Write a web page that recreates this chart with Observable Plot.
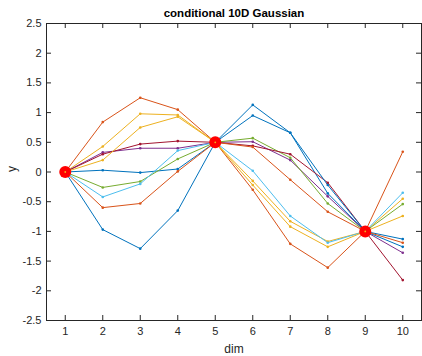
<!DOCTYPE html>
<html>
<head>
<meta charset="utf-8">
<script src="https://cdn.jsdelivr.net/npm/d3@7"></script>
<script src="https://cdn.jsdelivr.net/npm/@observablehq/plot@0.6"></script>
<style>
  html, body { margin: 0; padding: 0; background: #fff; }
  svg { display: block; }
</style>
</head>
<body>
<div id="chart"></div>
<script>
const dims = [1, 2, 3, 4, 5, 6, 7, 8, 9, 10];
const xTicks = [1, 2, 3, 4, 5, 6, 7, 8, 9, 10];
const yTicks = [-2.5, -2, -1.5, -1, -0.5, 0, 0.5, 1, 1.5, 2, 2.5];
const seriesColors = ["#0072BD", "#D95319", "#EDB120", "#7E2F8E", "#77AC30", "#4DBEEE", "#A2142F", "#0072BD", "#D95319", "#EDB120"];
const s1 = [0, 0.03, -0.01, 0.05, 0.5, 0.95, 0.66, -0.36, -1, -1.13];
const s2 = [0, 0.84, 1.25, 1.05, 0.5, -0.30, -1.21, -1.61, -1, 0.34];
const s3 = [0, 0.43, 0.98, 0.96, 0.5, -0.15, -0.83, -1.17, -1, -0.45];
const s4 = [0, 0.33, 0.40, 0.40, 0.5, 0.51, 0.20, -0.41, -1, -1.36];
const s5 = [0, -0.26, -0.16, 0.22, 0.5, 0.57, 0.24, -0.53, -1, -0.54];
const s6 = [0, -0.42, -0.20, 0.36, 0.5, 0.02, -0.74, -1.19, -1, -0.35];
const s7 = [0, 0.30, 0.47, 0.52, 0.5, 0.44, 0.30, -0.18, -1, -1.82];
const s8 = [0, -0.97, -1.29, -0.65, 0.5, 1.13, 0.66, -0.22, -1, -1.26];
const s9 = [0, -0.60, -0.53, 0.01, 0.5, 0.42, -0.13, -0.67, -1, -1.19];
const s10 = [0, 0.20, 0.75, 0.93, 0.5, -0.22, -0.92, -1.26, -1, -0.74];
const condDims = [1, 5, 9];
const condValues = [0, 0.5, -1];
const titleText = "conditional 10D Gaussian";
const xLabel = "dim";
const yLabel = "y";

const allSeries = [s1, s2, s3, s4, s5, s6, s7, s8, s9, s10];
const rows = [];
allSeries.forEach((vals, si) => vals.forEach((v, i) => rows.push({series: si, dim: dims[i], y: v})));
const cond = condDims.map((d, i) => ({dim: d, y: condValues[i]}));

const width = 422, height = 356;
const mt = 23, mb = 36, ml = 46, mr = 1;
const ph = height - mt - mb, pw = width - ml - mr;
const tick = 5;
const axisColor = "#262626";
const font = "'Liberation Sans', Arial, Helvetica, sans-serif";

const lineMarks = allSeries.map((vals, si) =>
  Plot.line(rows.filter(r => r.series === si), {x: "dim", y: "y", stroke: seriesColors[si], strokeWidth: 1})
);
const dotMarks = allSeries.map((vals, si) =>
  Plot.dot(rows.filter(r => r.series === si), {x: "dim", y: "y", fill: seriesColors[si], r: 1.3})
);

const chart = Plot.plot({
  width, height,
  marginTop: mt, marginBottom: mb, marginLeft: ml, marginRight: mr,
  style: {fontFamily: font, fontSize: "11px", color: axisColor, background: "#fff"},
  x: {domain: [0.5, 10.5], axis: null},
  y: {domain: [-2.5, 2.5], axis: null},
  marks: [
    ...lineMarks,
    ...dotMarks,
    Plot.dot(cond, {x: "dim", y: "y", fill: "#FF0000", r: 6}),
    Plot.dot(cond, {x: "dim", y: "y", fill: seriesColors[9], r: 0.9}),
    Plot.frame({stroke: axisColor, strokeWidth: 1}),
    Plot.tickX(xTicks, {x: d => d, stroke: axisColor, insetTop: ph - tick}),
    Plot.tickX(xTicks, {x: d => d, stroke: axisColor, insetBottom: ph - tick}),
    Plot.tickY(yTicks, {y: d => d, stroke: axisColor, insetRight: pw - tick}),
    Plot.tickY(yTicks, {y: d => d, stroke: axisColor, insetLeft: pw - tick}),
    Plot.axisX(xTicks, {tickSize: 0, tickPadding: 7, fontSize: 11, fill: axisColor, label: null}),
    Plot.axisY(yTicks, {tickSize: 0, tickPadding: 5, fontSize: 11, fill: axisColor, label: null, tickFormat: d => String(d)}),
    Plot.text([titleText], {frameAnchor: "top", dy: -10, lineAnchor: "middle", fontWeight: "bold", fontSize: 11.5, fill: "#000"}),
    Plot.text([xLabel], {frameAnchor: "bottom", dy: 29, lineAnchor: "middle", fontSize: 12, fill: axisColor}),
    Plot.text([yLabel], {frameAnchor: "left", dx: -34, rotate: -90, lineAnchor: "middle", fontSize: 12, fill: axisColor})
  ]
});
document.getElementById("chart").appendChild(chart);
</script>
</body>
</html>
